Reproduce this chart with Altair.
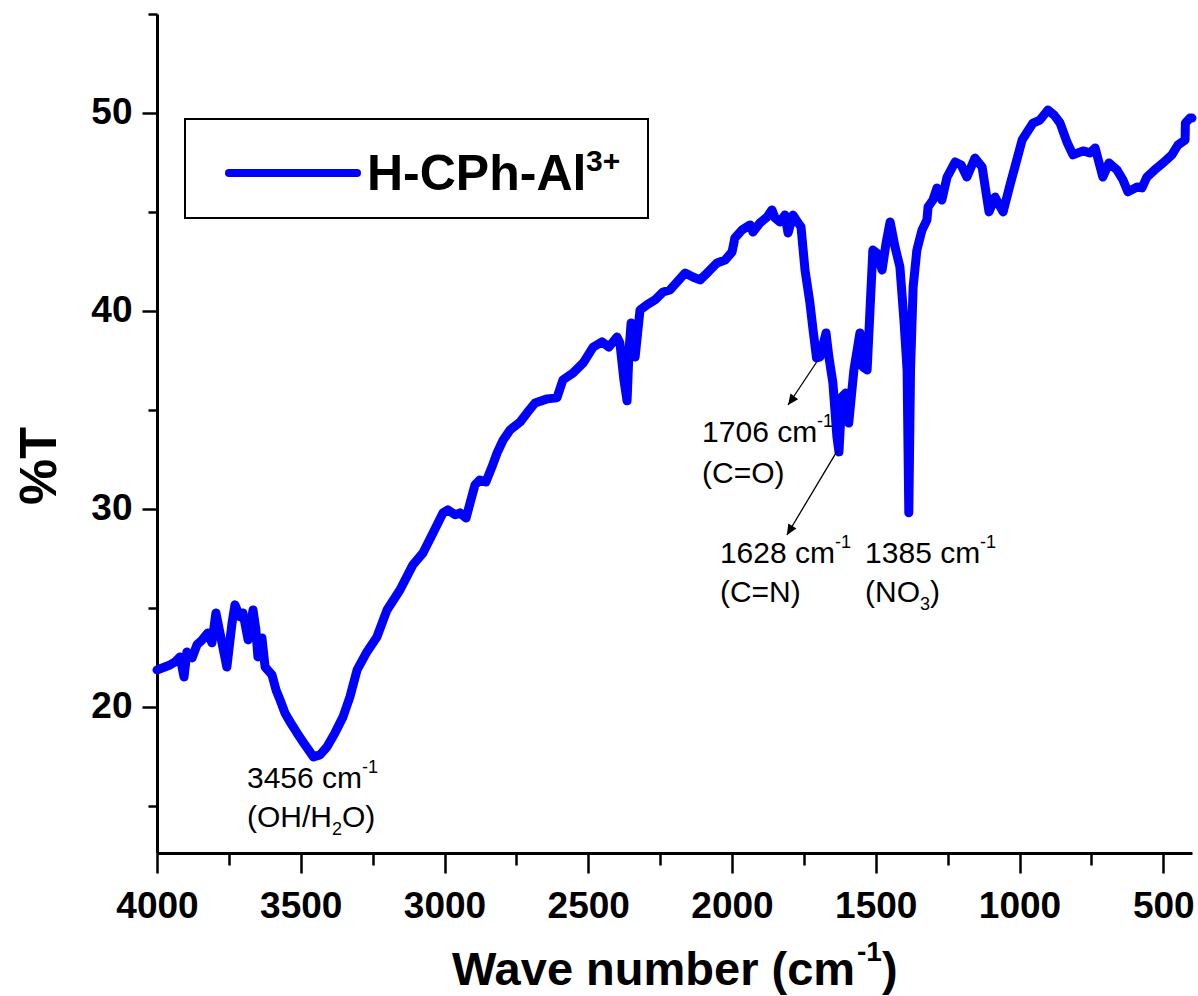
import altair as alt
import pandas as pd

# FT-IR spectrum of the H-CPh-Al3+ complex
wavenumber = [
    4000, 3955, 3937, 3920, 3906, 3896, 3878, 3861, 3843, 3823,
    3809, 3795, 3781, 3757, 3739, 3729, 3711, 3701, 3683, 3666,
    3656, 3649, 3635, 3624, 3600, 3586, 3572, 3555, 3537, 3513,
    3485, 3456, 3433, 3409, 3381, 3353, 3329, 3304, 3270, 3235,
    3200, 3155, 3110, 3075, 3040, 3005, 2988, 2963, 2946, 2925,
    2911, 2894, 2877, 2856, 2835, 2817, 2796, 2772, 2737, 2713,
    2685, 2643, 2609, 2588, 2553, 2518, 2483, 2452, 2428, 2400,
    2390, 2376, 2365, 2358, 2351, 2337, 2320, 2296, 2268, 2240,
    2216, 2191, 2163, 2136, 2111, 2083, 2052, 2024, 2000, 1990,
    1965, 1937, 1927, 1903, 1878, 1861, 1850, 1833, 1816, 1805,
    1788, 1770, 1760, 1746, 1729, 1718, 1706, 1694, 1673, 1663,
    1649, 1635, 1628, 1618, 1604, 1594, 1576, 1555, 1544, 1530,
    1520, 1510, 1496, 1478, 1464, 1450, 1433, 1416, 1402, 1391,
    1385, 1379, 1370, 1357, 1339, 1322, 1318, 1301, 1287, 1270,
    1252, 1224, 1203, 1183, 1155, 1130, 1106, 1085, 1057, 1033,
    1016, 991, 953, 929, 901, 880, 859, 835, 814, 779,
    755, 737, 710, 689, 661, 640, 623, 591, 574, 557,
    522, 501, 470, 449, 424, 423, 407, 400,
]
transmittance = [
    21.85, 22.10, 22.26, 22.51, 21.50, 22.76, 22.46, 23.12, 23.37, 23.72,
    23.22, 24.73, 23.72, 22.00, 24.23, 25.14, 24.53, 24.73, 23.37, 24.88,
    23.87, 22.51, 23.47, 22.00, 21.60, 20.84, 20.34, 19.68, 19.22, 18.67,
    18.06, 17.46, 17.56, 17.96, 18.67, 19.48, 20.49, 21.85, 22.76, 23.52,
    24.88, 25.89, 27.16, 27.76, 28.77, 29.79, 29.94, 29.69, 29.79, 29.53,
    30.29, 31.20, 31.45, 31.35, 32.11, 32.82, 33.47, 33.98, 34.38, 34.84,
    35.34, 35.55, 35.60, 36.51, 36.86, 37.36, 38.17, 38.43, 38.17, 38.68,
    38.38, 36.51, 35.45, 38.02, 39.39, 37.67, 40.04, 40.30, 40.55, 40.95,
    41.05, 41.46, 41.91, 41.71, 41.56, 41.96, 42.42, 42.57, 42.97, 43.68,
    44.09, 44.34, 43.98, 44.44, 44.74, 45.10, 44.69, 44.49, 44.84, 43.93,
    44.84, 44.44, 44.24, 42.06, 40.40, 39.03, 37.62, 37.67, 38.88, 37.67,
    36.35, 33.63, 32.87, 35.65, 35.85, 34.33, 37.01, 38.88, 37.16, 37.01,
    40.04, 43.07, 42.92, 42.06, 43.43, 44.49, 43.23, 42.22, 39.54, 37.01,
    29.79, 37.01, 41.20, 43.07, 44.09, 44.59, 45.25, 45.60, 46.21, 45.60,
    46.76, 47.52, 47.37, 46.76, 47.72, 47.27, 45.00, 45.75, 45.00, 46.36,
    47.27, 48.63, 49.49, 49.64, 50.15, 49.90, 49.49, 48.53, 47.88, 48.08,
    47.98, 48.23, 46.76, 47.47, 47.12, 46.61, 46.01, 46.26, 46.21, 46.76,
    47.22, 47.47, 47.88, 48.38, 48.63, 49.49, 49.74, 49.74,
]

x_major_ticks = [4000, 3500, 3000, 2500, 2000, 1500, 1000, 500]
x_minor_ticks = [3750, 3250, 2750, 2250, 1750, 1250, 750]
y_major_ticks = [20, 30, 40, 50]
y_minor_ticks = [15, 25, 35, 45, 55]

# peak annotations: anchor (wavenumber, %T) of each two-line label
label_wn = [3687, 2104, 2042, 1537]
label_top_t = [15.89, 33.37, 27.26, 27.26]
label_bottom_t = [13.92, 31.30, 25.29, 25.29]
label_top = ["3456 cm", "1706 cm", "1628 cm", "1385 cm"]
label_bottom = ["(OH/H", "(C=O)", "(C=N)", "(NO"]

# arrows from the 1706 and 1628 bands to their labels
arrow_wn_start = [1706, 1633]
arrow_t_start = [37.40, 32.95]
arrow_wn_end = [1805, 1809]
arrow_t_end = [35.24, 28.67]
arrow_angle = [216, 211]

FONT = "Liberation Sans"
BLUE = "#0000ff"
W, H = 1035, 839

spectrum = pd.DataFrame({"wavenumber": wavenumber, "T": transmittance})
labels = pd.DataFrame({
    "wn": label_wn, "t_top": label_top_t, "t_bottom": label_bottom_t,
    "top": label_top, "bottom": label_bottom,
})
arrows = pd.DataFrame({
    "wn1": arrow_wn_start, "t1": arrow_t_start,
    "wn2": arrow_wn_end, "t2": arrow_t_end,
})
single = pd.DataFrame({"k": [0]})  # one row for free-standing decorations

x_scale = alt.Scale(domain=[400, 4000], reverse=True, nice=False, zero=False)
y_scale = alt.Scale(domain=[12.6, 55], nice=False, zero=False)

axis_style = dict(
    grid=False, title=None, labelFont=FONT, labelFontWeight="bold",
    labelFontSize=37, labelColor="black", tickColor="black",
    domainColor="black", tickWidth=2.5, domainWidth=3,
    labelFlush=False, labelOverlap=False,
)
minor_style = dict(
    grid=False, title=None, labels=False, domain=False,
    tickColor="black", tickWidth=2.5,
)

x_axis = alt.Axis(orient="bottom", values=x_major_ticks, format="d",
                  tickSize=20, labelPadding=15, **axis_style)
y_axis = alt.Axis(orient="left", values=y_major_ticks, format="d",
                  tickSize=15, labelPadding=10, **axis_style)
x_axis_minor = alt.Axis(orient="bottom", values=x_minor_ticks, tickSize=12, **minor_style)
y_axis_minor = alt.Axis(orient="left", values=y_minor_ticks, tickSize=9, **minor_style)

line = alt.Chart(spectrum).mark_line(
    color=BLUE, strokeWidth=9, strokeJoin="round", strokeCap="round"
).encode(
    x=alt.X("wavenumber:Q", scale=x_scale, axis=x_axis),
    y=alt.Y("T:Q", scale=y_scale, axis=y_axis),
)

minor_ticks = alt.Chart(spectrum).mark_point(opacity=0).encode(
    x=alt.X("wavenumber:Q", scale=x_scale, axis=x_axis_minor),
    y=alt.Y("T:Q", scale=y_scale, axis=y_axis_minor),
)


def label_text(data, t_field, text, size, dx=0, dy=0, where=None):
    src = alt.Chart(data)
    if where is not None:
        src = src.transform_filter(where)
    return src.mark_text(
        align="left", baseline="alphabetic", font=FONT, fontSize=size,
        color="black", dx=dx, dy=dy,
    ).encode(
        x=alt.X("wn:Q", scale=x_scale, axis=None),
        y=alt.Y(f"{t_field}:Q", scale=y_scale, axis=None),
        text=text,
    )


ann_layers = [
    label_text(labels, "t_top", alt.Text("top:N"), 30),
    label_text(labels, "t_top", alt.value("-1"), 18, dx=115, dy=-15),
    label_text(labels, "t_bottom", alt.Text("bottom:N"), 30),
    # subscript 2 in H2O and 3 in NO3
    label_text(labels, "t_bottom", alt.value("2"), 18, dx=85, dy=8,
               where=alt.datum.bottom == "(OH/H"),
    label_text(labels, "t_bottom", alt.value("O)"), 30, dx=95,
               where=alt.datum.bottom == "(OH/H"),
    label_text(labels, "t_bottom", alt.value("3"), 18, dx=55, dy=8,
               where=alt.datum.bottom == "(NO"),
    label_text(labels, "t_bottom", alt.value(")"), 30, dx=65,
               where=alt.datum.bottom == "(NO"),
]

arrow_lines = alt.Chart(arrows).mark_rule(color="black", strokeWidth=1.3).encode(
    x=alt.X("wn1:Q", scale=x_scale, axis=None),
    y=alt.Y("t1:Q", scale=y_scale, axis=None),
    x2="wn2:Q",
    y2="t2:Q",
)
arrow_heads = [
    alt.Chart(arrows.iloc[[i]]).mark_point(
        shape="M0,0L-0.45,1L0.45,1Z", filled=True, color="black",
        opacity=1, size=450, angle=arrow_angle[i],
    ).encode(
        x=alt.X("wn2:Q", scale=x_scale, axis=None),
        y=alt.Y("t2:Q", scale=y_scale, axis=None),
    )
    for i in range(len(arrows))
]

# legend box with line sample and series name
legend_box = alt.Chart(single).mark_rect(
    fillOpacity=0, stroke="black", strokeWidth=2
).encode(x=alt.value(28), x2=alt.value(491), y=alt.value(105), y2=alt.value(204))
legend_line = alt.Chart(single).mark_rule(
    color=BLUE, strokeWidth=8, strokeCap="round"
).encode(x=alt.value(72), x2=alt.value(200), y=alt.value(159))


def free_text(text, x, y, size, weight="bold", angle=0, align="left", baseline="alphabetic"):
    return alt.Chart(single).mark_text(
        align=align, baseline=baseline, font=FONT, fontSize=size,
        fontWeight=weight, color="black", angle=angle,
    ).encode(x=alt.value(x), y=alt.value(y), text=alt.value(text))


legend_text = [
    free_text("H-CPh-Al", 210, 176, 50),
    free_text("3+", 429, 157, 30),
]

titles = [
    free_text("Wave number (cm", 295, 971, 47),
    free_text("-1", 700, 947, 28),
    free_text(")", 725, 971, 47),
    free_text("%T", -117, 452, 52, angle=270, align="center", baseline="middle"),
]

chart = alt.layer(
    line, minor_ticks, *ann_layers, arrow_lines, *arrow_heads,
    legend_box, legend_line, *legend_text, *titles,
).resolve_axis(
    x="independent", y="independent"
).properties(
    width=W, height=H,
    autosize=alt.AutoSizeParams(type="none"),
    padding={"left": 157, "top": 14, "right": 6, "bottom": 143},
    background="white",
).configure_view(strokeWidth=0)

chart.save("out.html", embed_options={"renderer": "svg", "actions": False})
